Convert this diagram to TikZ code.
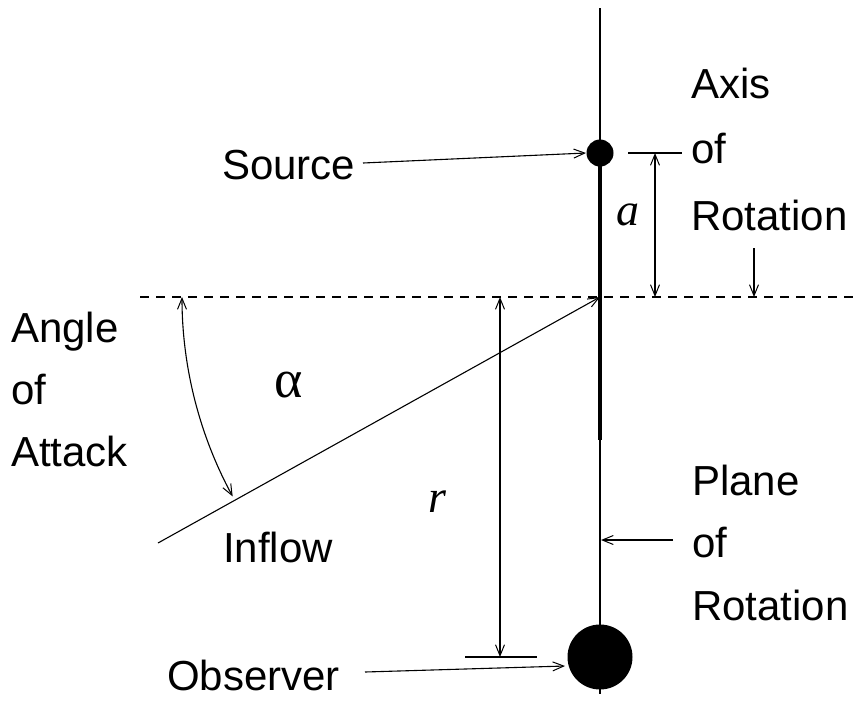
\documentclass[tikz,border=0pt]{standalone}
\usepackage{fontspec}
\setmainfont{Liberation Sans}
\newfontfamily\serifit{Liberation Serif}
\usetikzlibrary{arrows.meta}
\begin{document}
\begin{tikzpicture}[x=1pt,y=-1pt,
  thinline/.style={line width=1.1pt},
  >={Straight Barb[length=11pt,width=9pt,line width=1pt]},
  lbl/.style={anchor=base west,inner sep=0pt,font=\fontsize{42}{42}\selectfont},
  sym/.style={inner sep=0pt,font=\fontsize{46}{46}\selectfont\serifit\itshape},
  dashline/.style={line width=1.1pt,dash pattern=on 9pt off 7pt}]
\useasboundingbox (0,0) rectangle (858,702);
% main axis
\coordinate (axtop) at (600,8);
\coordinate (axbot) at (600,694);
\coordinate (hub) at (600,297);
\draw[thinline] (axtop) -- (axbot);
% thick blade
\coordinate (bladetop) at (600,160);
\coordinate (bladebot) at (600,440);
\draw[line width=4.2pt] (bladetop) -- (bladebot);
% dashed plane line
\coordinate (dl) at (140,297);
\coordinate (dr) at (856,297);
\draw[dashline] (dl) -- (dr);
% source and observer
\node[circle,fill=black,minimum size=27pt,inner sep=0pt] (src) at (600,153) {};
\node[circle,fill=black,minimum size=65pt,inner sep=0pt] (obs) at (600,657) {};
% labels
\node[lbl] (source) at (222,179) {Source};
\node[lbl] (axis1) at (691,98) {Axis};
\node[lbl] (axis2) at (691,163) {of};
\node[lbl] (axis3) at (691,230) {Rotation};
\node[lbl] (ang1) at (11,342) {Angle};
\node[lbl] (ang2) at (11,404) {of};
\node[lbl] (ang3) at (11,466) {Attack};
\node[lbl] (inflow) at (223,562) {Inflow};
\node[lbl] (observer) at (167,690) {Observer};
\node[lbl] (plane1) at (692,495) {Plane};
\node[lbl] (plane2) at (692,557) {of};
\node[lbl] (plane3) at (692,620) {Rotation};
\node[inner sep=0pt,font=\fontsize{54}{54}\selectfont\serifit] (alpha) at (289,385) {α};
\node[sym,anchor=base] (rlab) at (437,512) {r};
\node[sym,anchor=base] (alab) at (628,225) {a};
% pointer arrows
\coordinate (srcfrom) at (363,163);
\coordinate (srcto) at (586,153);
\draw[thinline,->] (srcfrom) -- (srcto);
\coordinate (obsfrom) at (365,672);
\coordinate (obsto) at (565,666);
\draw[thinline,->] (obsfrom) -- (obsto);
\coordinate (axfrom) at (754,248);
\coordinate (axto) at (754,297);
\draw[thinline,->] (axfrom) -- (axto);
\coordinate (plfrom) at (673,540);
\coordinate (plto) at (601,540);
\draw[thinline,->] (plfrom) -- (plto);
% inflow line
\coordinate (inflowstart) at (158,543);
\draw[thinline,->] (inflowstart) -- (hub);
% dimension a
\coordinate (atl) at (628,153);
\coordinate (atr) at (682,153);
\draw[thinline] (atl) -- (atr);
\coordinate (atop) at (655,153);
\coordinate (abot) at (655,297);
\draw[thinline,<->] (atop) -- (abot);
% dimension r
\coordinate (rtl) at (465,657);
\coordinate (rtr) at (537,657);
\draw[thinline] (rtl) -- (rtr);
\coordinate (rtop) at (500,297);
\coordinate (rbot) at (500,657);
\draw[thinline,<->] (rtop) -- (rbot);
% angle arc
\coordinate (arcstart) at (182,297);
\draw[thinline,<->] (arcstart) arc[start angle=180,end angle=151.5,radius=418];
\end{tikzpicture}
\end{document}
